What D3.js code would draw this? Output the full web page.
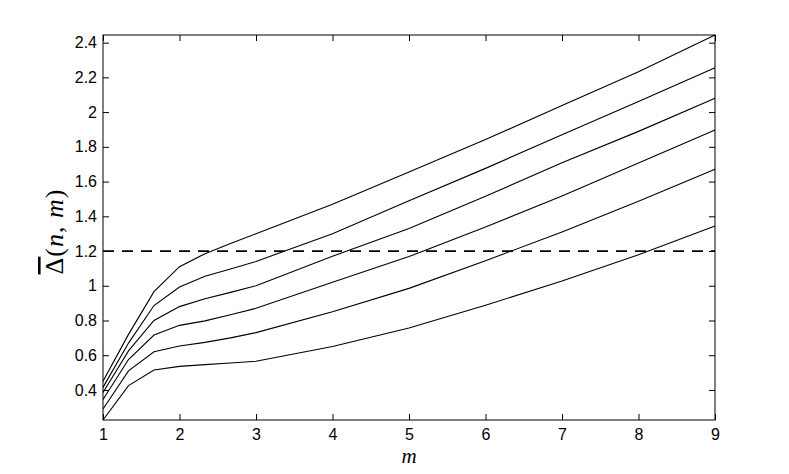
<!DOCTYPE html>
<html>
<head>
<meta charset="utf-8">
<script src="https://cdn.jsdelivr.net/npm/d3@7"></script>
<style>
  body { margin: 0; background: #fff; }
</style>
</head>
<body>
<div id="chart"></div>
<script>
// m grid shared by all curves
const mValues = [1, 4 / 3, 5 / 3, 2, 7 / 3, 8 / 3, 3, 4, 5, 6, 7, 8, 9]

// one array per curve, bottom to top
const curve1 = [0.227, 0.425, 0.515, 0.536, 0.546, 0.555, 0.565, 0.65, 0.757, 0.888, 1.027, 1.178, 1.344]
const curve2 = [0.29, 0.51, 0.62, 0.653, 0.674, 0.70, 0.73, 0.85, 0.985, 1.144, 1.31, 1.486, 1.671]
const curve3 = [0.345, 0.575, 0.716, 0.772, 0.798, 0.833, 0.87, 1.02, 1.168, 1.338, 1.517, 1.707, 1.897]
const curve4 = [0.385, 0.625, 0.80, 0.88, 0.925, 0.962, 1.0, 1.17, 1.33, 1.515, 1.709, 1.889, 2.08]
const curve5 = [0.415, 0.67, 0.886, 0.993, 1.055, 1.097, 1.14, 1.30, 1.49, 1.676, 1.87, 2.061, 2.256]
const curve6 = [0.45, 0.72, 0.966, 1.11, 1.185, 1.243, 1.30, 1.47, 1.655, 1.842, 2.038, 2.232, 2.444]

const threshold = 1.2

const xTicks = [1, 2, 3, 4, 5, 6, 7, 8, 9]
const yTicks = [0.4, 0.6, 0.8, 1, 1.2, 1.4, 1.6, 1.8, 2, 2.2, 2.4]

const curves = [curve1, curve2, curve3, curve4, curve5, curve6]

const margin = { top: 35, left: 103, right: 74, bottom: 54 }
const fullWidth = 789
const fullHeight = 474
const width = fullWidth - margin.left - margin.right
const height = fullHeight - margin.top - margin.bottom

const sans = "'Liberation Sans', Arial, Helvetica, sans-serif"
const serif = "'Liberation Serif', 'DejaVu Serif', 'Times New Roman', serif"

const svg = d3
  .select('#chart')
  .append('svg')
  .attr('width', fullWidth)
  .attr('height', fullHeight)
  .append('g')
  .attr('transform', 'translate(' + margin.left + ',' + margin.top + ')')

/// Scales////
const allValues = curves.flat()
const xScale = d3.scaleLinear().domain(d3.extent(mValues)).range([0, width])
const yScale = d3.scaleLinear().domain(d3.extent(allValues)).range([height, 0])

const yFormat = d => String(+d.toFixed(1))
const tick = 6

// axes, ticks pointing inward like matlab
svg
  .append('g')
  .attr('class', 'axis x-axis')
  .attr('transform', 'translate(0,' + height + ')')
  .call(d3.axisBottom(xScale).tickValues(xTicks).tickSizeInner(-tick).tickSizeOuter(0).tickPadding(9).tickFormat(d3.format('d')))

svg
  .append('g')
  .attr('class', 'axis')
  .call(d3.axisTop(xScale).tickValues(xTicks).tickSizeInner(-tick).tickSizeOuter(0).tickFormat(''))

svg
  .append('g')
  .attr('class', 'axis y-axis')
  .call(d3.axisLeft(yScale).tickValues(yTicks).tickSizeInner(-tick).tickSizeOuter(0).tickPadding(6).tickFormat(yFormat))

svg
  .append('g')
  .attr('class', 'axis')
  .attr('transform', 'translate(' + width + ',0)')
  .call(d3.axisRight(yScale).tickValues(yTicks).tickSizeInner(-tick).tickSizeOuter(0).tickFormat(''))

svg.selectAll('.axis .domain').remove()
svg.selectAll('.axis line').attr('stroke', '#000')
svg
  .selectAll('.axis text')
  .attr('fill', '#000')
  .style('font-size', '16px')
  .style('font-family', sans)

// threshold line
svg
  .append('line')
  .attr('x1', 0)
  .attr('x2', width)
  .attr('y1', yScale(threshold))
  .attr('y2', yScale(threshold))
  .attr('stroke', '#000')
  .attr('stroke-width', 1.8)
  .attr('stroke-dasharray', '11,8')

/// curves////
const line = d3
  .line()
  .x((d, i) => xScale(mValues[i]))
  .y(d => yScale(d))

svg
  .selectAll('.curve')
  .data(curves)
  .enter()
  .append('path')
  .attr('class', 'curve')
  .attr('d', d => line(d))
  .attr('fill', 'none')
  .attr('stroke', '#000')
  .attr('stroke-width', 1.1)

// frame
svg
  .append('rect')
  .attr('x', 0)
  .attr('y', 0)
  .attr('width', width)
  .attr('height', height)
  .attr('fill', 'none')
  .attr('stroke', '#000')
  .attr('stroke-width', 1)

/// labels////
svg
  .append('text')
  .attr('x', xScale(5))
  .attr('y', height + 43)
  .attr('text-anchor', 'middle')
  .style('font-family', serif)
  .style('font-style', 'italic')
  .style('font-size', '21px')
  .text('m')

const yLabel = svg
  .append('text')
  .attr('transform', 'translate(' + -40 + ',' + (height / 2 + 4) + ') rotate(-90)')
  .attr('text-anchor', 'middle')
  .style('font-family', serif)
  .style('font-size', '26px')
  .style('letter-spacing', '1px')

yLabel.append('tspan').style('text-decoration', 'overline').text('Δ')
yLabel.append('tspan').text('(')
yLabel.append('tspan').style('font-style', 'italic').text('n')
yLabel.append('tspan').text(', ')
yLabel.append('tspan').style('font-style', 'italic').text('m')
yLabel.append('tspan').text(')')
</script>
</body>
</html>
